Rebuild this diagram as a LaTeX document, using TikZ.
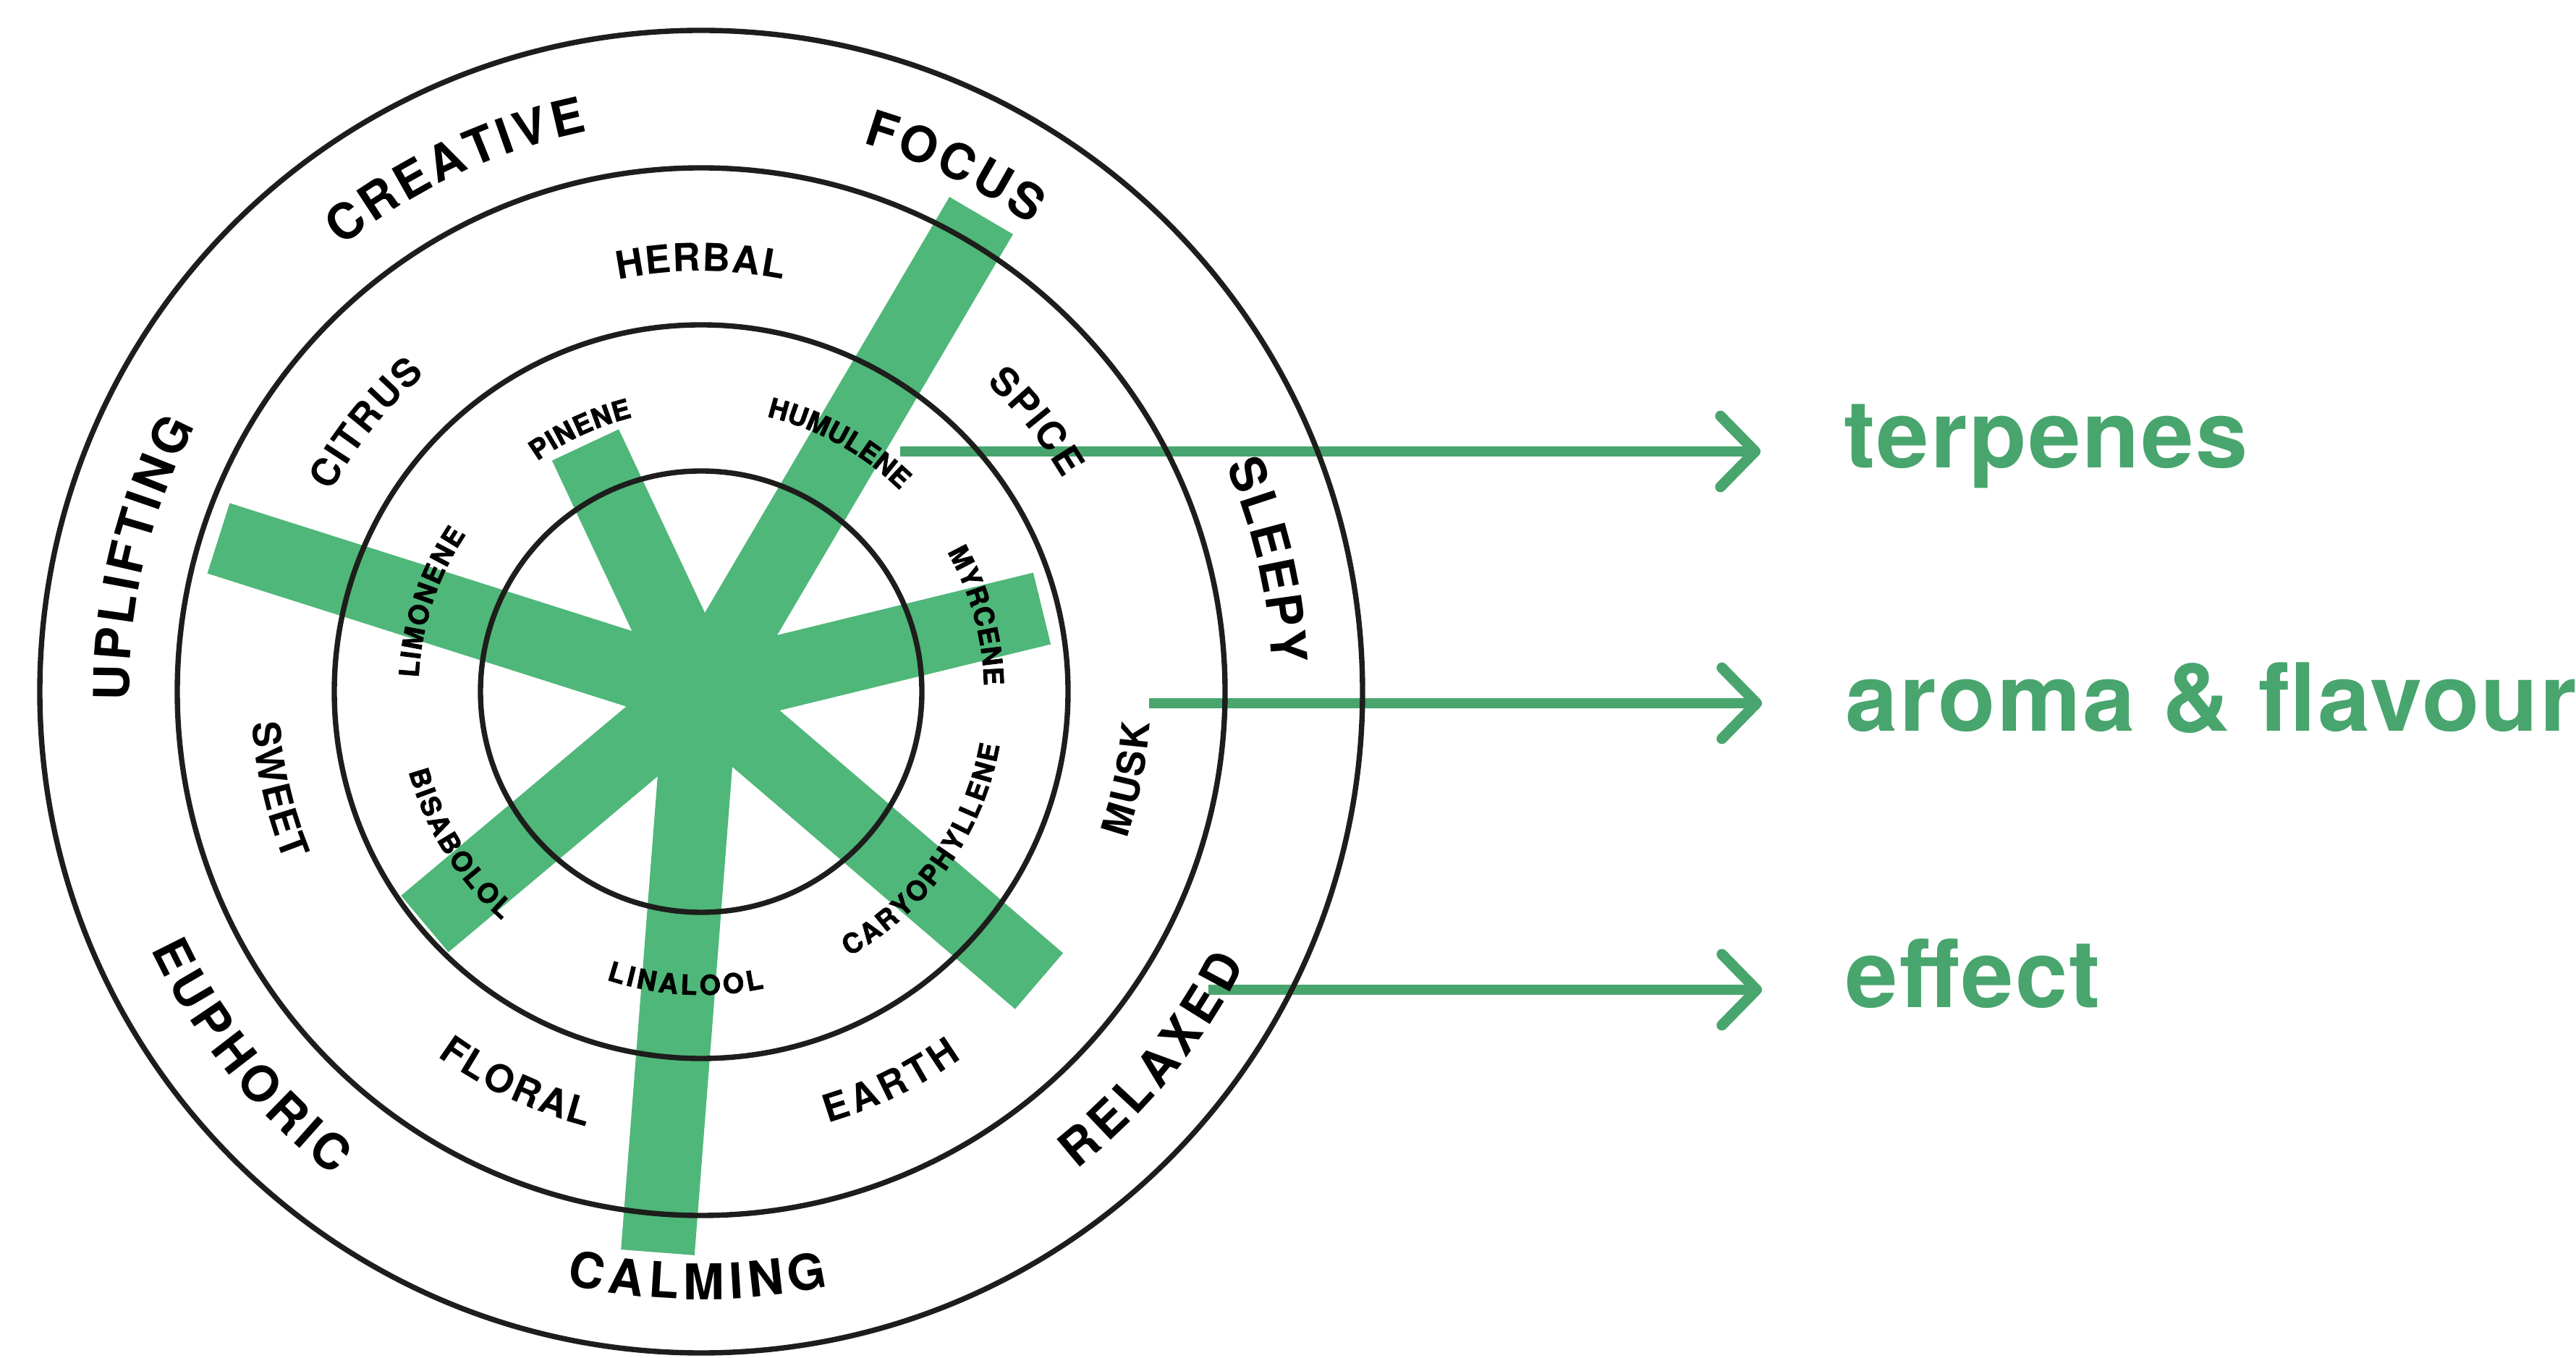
\documentclass[tikz,border=0pt]{standalone}
\usepackage{fontspec}
\newfontfamily\ringsans{texgyreheros-bold.otf}
\newfontfamily\terpsans[FakeBold=2]{texgyreheros-bold.otf}
\newfontfamily\legendsans[LetterSpace=1.8]{texgyreheros-bold.otf}
\usetikzlibrary{decorations.text}
\usetikzlibrary{arrows.meta}

\definecolor{barGreen}{HTML}{4FB779}
\definecolor{lineGreen}{HTML}{48A56D}
\definecolor{ink}{HTML}{1D1D1B}

\newcommand\effectfont{\ringsans\fontsize{19.4pt}{23pt}\selectfont}
\newcommand\aromafont{\ringsans\fontsize{15.1pt}{18pt}\selectfont}
\newcommand\terpfont{\terpsans\fontsize{10.7pt}{13pt}\selectfont}

\begin{document}
\begin{tikzpicture}[bar/.style={draw=barGreen, line width=29pt},
  ring/.style={draw=ink, line width=2.1pt},
  pointer/.style={draw=lineGreen, line width=4.2pt, shorten >=1.15cm, -{Straight Barb[length=0.48cm, width=0.98cm, round]}},
  legend/.style={text=lineGreen, font=\legendsans\fontsize{37pt}{40pt}\selectfont, inner sep=0pt, anchor=base west},
  curved/.style={decorate, decoration={text along path, text align=fit to path, text={#1}}}]
\useasboundingbox (0,0) rectangle (35.6,18.76);

% centre of the wheel
\coordinate (C) at (9.69,9.20);

% terpene spokes
\coordinate (focus end) at (13.56,15.78);
\coordinate (pinene end) at (8.09,12.61);
\coordinate (limonene end) at (3.02,11.32);
\coordinate (myrcene end) at (14.40,10.35);
\coordinate (caryo end) at (14.36,5.20);
\coordinate (bisabolol end) at (5.87,5.99);
\coordinate (calming end) at (9.09,1.45);
\foreach \e in {focus end, pinene end, limonene end, myrcene end, caryo end, bisabolol end, calming end}
  \draw[bar] (C) -- (\e);

% legend
\node (terpenes) [legend] at (25.48,12.29) {terpenes};
\node (aroma) [legend] at (25.50,8.65) {aroma \& flavour};
\node (effect) [legend] at (25.50,4.84) {effect};
\coordinate (t0) at (12.44,12.52);
\coordinate (a0) at (15.88,9.04);
\coordinate (e0) at (16.70,5.08);
\draw[pointer] (t0) -- (t0 -| terpenes.west);
\draw[pointer] (a0) -- (a0 -| aroma.west);
\draw[pointer] (e0) -- (e0 -| effect.west);

% rings
\foreach \r in {9.14, 7.24, 5.07, 3.05}
  \draw[ring] (C) circle[radius=\r];

% effects (outer ring)
\foreach \a/\b/\word in {128.9/101.5/CREATIVE, 73.6/54.8/FOCUS, 23.3/2.8/SLEEPY, 180.9/152.3/UPLIFTING}
  \path[curved/.expanded={|\noexpand\effectfont|\word}] (C) ++(\a:7.9) arc[start angle=\a, end angle=\b, radius=7.9];
\foreach \a/\b/\word in {-51.8/-26.6/RELAXED, -102.8/-77.9/CALMING, 205.1/232.8/EUPHORIC}
  \path[curved/.expanded={|\noexpand\effectfont|\word}] (C) ++(\a:8.4) arc[start angle=\a, end angle=\b, radius=8.4];

% aroma & flavour (middle ring)
\foreach \a/\b/\word in {101.4/78.7/HERBAL, 47.2/30.5/SPICE, 151.6/131/CITRUS}
  \path[curved/.expanded={|\noexpand\aromafont|\word}] (C) ++(\a:5.81) arc[start angle=\a, end angle=\b, radius=5.81];
\foreach \a/\b/\word in {-19.1/-4/MUSK, -73.6/-54.6/EARTH, 234.1/255.3/FLORAL, 184/202.2/SWEET}
  \path[curved/.expanded={|\noexpand\aromafont|\word}] (C) ++(\a:6.22) arc[start angle=\a, end angle=\b, radius=6.22];

% terpenes (inner ring)
\foreach \a/\b/\word in {125.4/104.1/PINENE, 76.6/45.5/HUMULENE, 29.6/1.2/MYRCENE, 177.2/146.2/LIMONENE}
  \path[curved/.expanded={|\noexpand\terpfont|\word}] (C) ++(\a:3.91) arc[start angle=\a, end angle=\b, radius=3.91];
\foreach \a/\b/\word in {-60.8/-10.2/CARYOPHYLLENE, 251.8/282/LINALOOL, 195.3/228.9/BISABOLOL}
  \path[curved/.expanded={|\noexpand\terpfont|\word}] (C) ++(\a:4.19) arc[start angle=\a, end angle=\b, radius=4.19];
\end{tikzpicture}
\end{document}
